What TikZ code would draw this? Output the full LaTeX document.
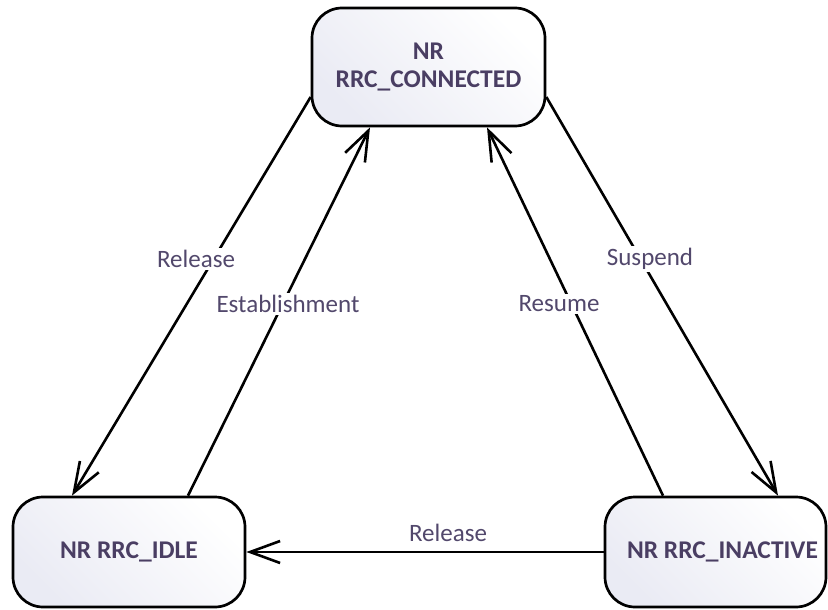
\documentclass[tikz,border=0pt]{standalone}
\usepackage{fontspec}
\setmainfont{Carlito}
\usetikzlibrary{arrows.meta}
\definecolor{statetext}{RGB}{74,62,99}
\definecolor{labeltext}{RGB}{82,72,108}
\definecolor{boxshade}{RGB}{234,235,244}
\tikzset{
  state/.style={draw=black, line width=2.7pt, rounded corners=30pt,
    top color=white, bottom color=boxshade, shading angle=-45,
    text=statetext, font=\fontsize{25.5}{28}\selectfont\bfseries,
    align=center, inner sep=0pt},
  trans/.style={line width=2.6pt, -{Straight Barb[length=30pt,width=22pt]}},
  tlabel/.style={fill=white, text=labeltext, inner sep=2pt,
    font=\fontsize{25}{28}\selectfont}
}
\begin{document}
\begin{tikzpicture}[x=1pt,y=-1pt]
\useasboundingbox[fill=white] (0,0) rectangle (828,610);

% states
\node[state, minimum width=233pt, minimum height=118pt] (conn) at (428.5,67) {NR\\RRC\_CONNECTED};
\node[state, minimum width=232pt, minimum height=110pt] (idle) at (129,552) {NR RRC\_IDLE};
\node[state, minimum width=221pt, minimum height=110pt] (inact) at (715.5,552) {\hspace*{14pt}NR RRC\_INACTIVE};

% transitions
\draw[trans] ([yshift=-30pt]conn.west) -- ([xshift=-57pt]idle.north);
\draw[trans] ([xshift=59pt]idle.north) -- ([xshift=-58.5pt]conn.south);
\draw[trans] ([xshift=-52.5pt]inact.north) -- ([xshift=58.5pt]conn.south);
\draw[trans] ([yshift=-30pt]conn.east) -- ([xshift=62.5pt]inact.north);
\draw[trans] (inact.west) -- (idle.east);

% transition labels
\node[tlabel] (lrel) at (196,259) {Release};
\node[tlabel] (lest) at (288,304) {Establishment};
\node[tlabel] (lres) at (559,304) {Resume};
\node[tlabel] (lsus) at (650,259) {Suspend};
\node[tlabel] (lrel2) at (448,533) {Release};
\end{tikzpicture}
\end{document}
